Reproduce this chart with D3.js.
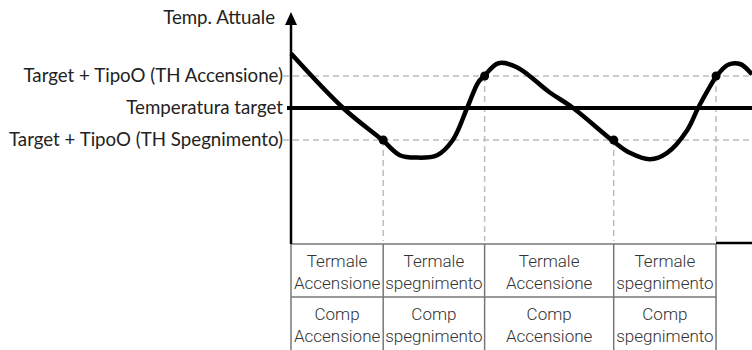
<!DOCTYPE html>
<html>
<head>
<meta charset="utf-8">
<script src="https://cdn.jsdelivr.net/npm/d3@7"></script>
<style>
	body { margin: 0; background: #fff; }
	.lbl { font-family: Lato, "Noto Sans", sans-serif; font-size: 18.7px; fill: #222; }
	.cell { font-family: Roboto, sans-serif; font-weight: 300; font-size: 17px; fill: #333; }
</style>
</head>
<body>
<div class="c-svg"></div>
<script>
//DATA
//-------------------------------------------------------------------------

//temperature levels (deg)
const tempTarget = 20;
const tempOn = 22;   //target + tipo0 (TH accensione)
const tempOff = 18;  //target + tipo0 (TH spegnimento)

const curveTime = [0, 11.3, 20, 23.6, 27.3, 31.7, 35.1, 38.2, 40.6, 41.9, 45, 49, 56, 61.2, 69.8, 73.5, 77.9, 81.6, 85.9, 88.3, 90.9, 92.2, 94.8, 97.4, 100];
const curveTemp = [23.4, 20, 17.95, 17.05, 16.9, 17.05, 18.0, 20, 21.6, 22, 22.8, 22.55, 21.0, 20, 17.95, 17.2, 16.8, 17.2, 18.6, 20, 21.35, 21.95, 22.7, 22.75, 22.1];

//switching instants
const switchTime = [20, 42, 70, 92.2];

//y labels
const yLabels = [
	{ label: "Target + TipoO (TH Accensione)", value: tempOn },
	{ label: "Temperatura target", value: tempTarget },
	{ label: "Target + TipoO (TH Spegnimento)", value: tempOff }
];
const yTitle = "Temp. Attuale";

//table rows
const rowTermale = [["Termale", "Accensione"], ["Termale", "spegnimento"], ["Termale", "Accensione"], ["Termale", "spegnimento"]];
const rowComp = [["Comp", "Accensione"], ["Comp", "spegnimento"], ["Comp", "Accensione"], ["Comp", "spegnimento"]];


//INITIALISATION
//-------------------------------------------------------------------------
const opts = {
	width: 752,
	height: 350,
	axisX: 291,
	axisTop: 12,
	axisBottom: 244,
	rowH: 53
};

const svg = d3.select(".c-svg")
	.append("svg")
	.attr("width", opts.width)
	.attr("height", opts.height);

const x = d3.scaleLinear()
	.domain([0, 100])
	.range([opts.axisX, opts.width]);

const y = d3.scaleLinear()
	.domain([11.5, 26])
	.range([opts.axisBottom, opts.axisTop]);

const gray = "#bdbdbd";

//dashed threshold lines
svg.selectAll(".th")
	.data([tempOn, tempOff])
	.join("line")
	.attr("x1", opts.axisX - 8)
	.attr("x2", opts.width)
	.attr("y1", d => y(d))
	.attr("y2", d => y(d))
	.style("stroke", gray)
	.style("stroke-width", 1.5)
	.style("stroke-dasharray", "6,4");

//vertical dashed lines at switch points
svg.selectAll(".sw")
	.data(switchTime)
	.join("line")
	.attr("x1", d => x(d))
	.attr("x2", d => x(d))
	.attr("y1", (d, i) => y(i % 2 ? tempOn : tempOff))
	.attr("y2", opts.axisBottom)
	.style("stroke", gray)
	.style("stroke-width", 1.5)
	.style("stroke-dasharray", "6,4");

//target line
svg.append("line")
	.attr("x1", opts.axisX - 4)
	.attr("x2", opts.width)
	.attr("y1", y(tempTarget))
	.attr("y2", y(tempTarget))
	.style("stroke", "#000")
	.style("stroke-width", 4);

//x axis
svg.append("line")
	.attr("x1", opts.axisX)
	.attr("x2", opts.width)
	.attr("y1", opts.axisBottom - 1)
	.attr("y2", opts.axisBottom - 1)
	.style("stroke", "#000")
	.style("stroke-width", 2.5);

//TABLE
//-------------------------------------------------------------------------
const cols = [0].concat(switchTime);
const table = svg.append("g");

table.append("rect")
	.attr("x", 0).attr("y", opts.axisBottom - 3)
	.attr("width", x(switchTime[3])).attr("height", 120)
	.style("fill", "#fff");

table.selectAll(".hl")
	.data([0, 1])
	.join("line")
	.attr("x1", x(0))
	.attr("x2", x(switchTime[3]))
	.attr("y1", d => opts.axisBottom + d * opts.rowH)
	.attr("y2", d => opts.axisBottom + d * opts.rowH)
	.style("stroke", "#777")
	.style("stroke-width", 1.5);

table.selectAll(".vl")
	.data(cols)
	.join("line")
	.attr("x1", d => x(d))
	.attr("x2", d => x(d))
	.attr("y1", opts.axisBottom)
	.attr("y2", opts.height)
	.style("stroke", "#777")
	.style("stroke-width", 1.5);

[rowTermale, rowComp].forEach((row, r) => {
	row.forEach((lines, c) => {
		const xc = (x(cols[c]) + x(cols[c + 1])) / 2;
		lines.forEach((t, k) => {
			table.append("text")
				.attr("class", "cell")
				.attr("x", xc)
				.attr("y", opts.axisBottom + r * opts.rowH + 23 + k * 22)
				.attr("text-anchor", "middle")
				.text(t);
		});
	});
});

//y axis with arrow
svg.append("line")
	.attr("x1", opts.axisX)
	.attr("x2", opts.axisX)
	.attr("y1", opts.axisTop + 10)
	.attr("y2", opts.axisBottom)
	.style("stroke", "#000")
	.style("stroke-width", 2.5);

svg.append("path")
	.attr("d", `M${opts.axisX},${opts.axisTop} L${opts.axisX + 6},${opts.axisTop + 13} L${opts.axisX - 6},${opts.axisTop + 13} Z`)
	.style("fill", "#000");

//labels
svg.append("text")
	.attr("class", "lbl")
	.attr("x", 275)
	.attr("y", 24)
	.attr("text-anchor", "end")
	.text(yTitle);

svg.selectAll(".ylab")
	.data(yLabels)
	.join("text")
	.attr("class", "lbl")
	.attr("x", 283)
	.attr("y", d => y(d.value) + 6)
	.attr("text-anchor", "end")
	.text(d => d.label);

//CURVE
//-------------------------------------------------------------------------
const line = d3.line()
	.x((d, i) => x(curveTime[i]))
	.y(d => y(d))
	.curve(d3.curveCatmullRom.alpha(0.5));

svg.append("path")
	.datum(curveTemp)
	.attr("d", line)
	.style("fill", "none")
	.style("stroke", "#000")
	.style("stroke-width", 4.5)
	.style("stroke-linejoin", "round");

svg.selectAll(".dot")
	.data(switchTime)
	.join("circle")
	.attr("cx", d => x(d))
	.attr("cy", (d, i) => y(i % 2 ? tempOn : tempOff))
	.attr("r", 4.5)
	.style("fill", "#000");
</script>
</body>
</html>
